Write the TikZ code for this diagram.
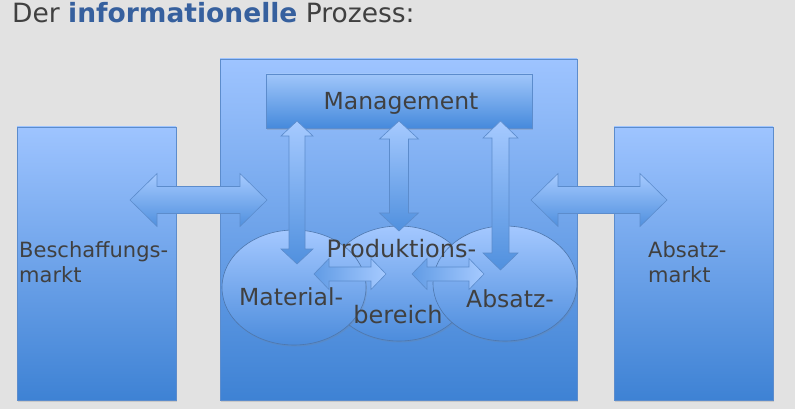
\documentclass[tikz,border=0pt]{standalone}
\usepackage{fontspec}
\setmainfont{DejaVu Sans}
\usetikzlibrary{shadows}
\definecolor{bg}{RGB}{226,226,226}
\definecolor{txt}{RGB}{64,64,64}
\definecolor{ttl}{RGB}{54,96,158}
\definecolor{boxtop}{RGB}{158,196,255}
\definecolor{boxmid}{RGB}{134,180,245}
\definecolor{boxbot}{RGB}{62,130,212}
\definecolor{edge}{RGB}{92,140,204}
\definecolor{mgtop}{RGB}{160,198,250}
\definecolor{mgbot}{RGB}{70,138,220}
\definecolor{eltop}{RGB}{164,200,255}
\definecolor{elbot}{RGB}{76,140,220}
\definecolor{artop}{RGB}{166,202,255}
\definecolor{arbot}{RGB}{80,144,222}
\tikzset{
  bigbox/.style={draw=edge, line width=0.6pt, top color=boxtop, middle color=boxmid, bottom color=boxbot,
    drop shadow={shadow xshift=1.2pt, shadow yshift=-1.8pt, opacity=0.25}},
  mgbox/.style={draw=edge, line width=0.6pt, top color=mgtop, bottom color=mgbot,
    drop shadow={shadow xshift=1.2pt, shadow yshift=-1.8pt, opacity=0.25}},
  ell/.style={draw=edge!85!black, line width=0.6pt, top color=eltop, bottom color=elbot,
    drop shadow={shadow xshift=1pt, shadow yshift=-1.5pt, opacity=0.2}},
  blockarrow/.style={draw=edge, line width=0.6pt, top color=artop, bottom color=arbot},
  blockarrowh/.style={draw=edge, line width=0.6pt, left color=arbot!80!artop, right color=artop},
  lbl/.style={text=txt, inner sep=0pt},
}
% horizontal double block arrow: x1,x2,y,shaft half,head half,head length
\newcommand{\hdarrow}[7]{%
  \path[#1] (#2,#4) -- (#2+#7,#4-#6) -- (#2+#7,#4-#5) -- (#3-#7,#4-#5) -- (#3-#7,#4-#6)
    -- (#3,#4) -- (#3-#7,#4+#6) -- (#3-#7,#4+#5) -- (#2+#7,#4+#5) -- (#2+#7,#4+#6) -- cycle;}
% vertical double block arrow: x,y1,y2,shaft half,head half,head length
\newcommand{\vdarrow}[7]{%
  \path[#1] (#2,#3) -- (#2+#6,#3+#7) -- (#2+#5,#3+#7) -- (#2+#5,#4-#7) -- (#2+#6,#4-#7)
    -- (#2,#4) -- (#2-#6,#4-#7) -- (#2-#5,#4-#7) -- (#2-#5,#3+#7) -- (#2-#6,#3+#7) -- cycle;}
\begin{document}
\begin{tikzpicture}[x=1pt,y=-1pt]
\useasboundingbox (0,0) rectangle (795,409);
\fill[bg] (0,0) rectangle (795,409);

% title
\node[lbl, anchor=base west, font=\fontsize{26.5}{30}\selectfont] (title) at (12,23)
  {Der \textcolor{ttl}{\textbf{informationelle}} Prozess:};

% boxes
\path[bigbox] (17,127) rectangle (176,400);
\path[bigbox] (614,127) rectangle (773,400);
\path[bigbox] (220,59) rectangle (577,400);

% management
\path[mgbox] (266,74) rectangle (532,128);
\node[lbl, anchor=base, font=\fontsize{23.5}{28}\selectfont] (mgmt) at (401,110) {Management};

% big horizontal arrows
\hdarrow{blockarrow}{130}{267}{200}{13.5}{26.5}{27}
\hdarrow{blockarrow}{531}{667}{200}{13.5}{26.5}{27}

% ellipses
\path[ell] (399,283.5) ellipse [x radius=72, y radius=57.5];
\path[ell] (294,287.5) ellipse [x radius=72, y radius=57.5];
\path[ell] (505,283.5) ellipse [x radius=72, y radius=57.5];

% vertical arrows
\vdarrow{blockarrow}{297}{121}{264}{8}{16}{15}
\vdarrow{blockarrow}{399}{121}{231}{9.5}{19.5}{18}
\vdarrow{blockarrow}{500.5}{121}{270}{8.5}{17.5}{17}

% small horizontal arrows
\hdarrow{blockarrowh}{314}{386}{274}{7}{15.5}{15}
\hdarrow{blockarrowh}{412}{484}{274}{7}{15.5}{15}

% ellipse labels
\node[lbl, anchor=base, font=\fontsize{24}{28}\selectfont] (prod) at (401.5,257) {Produktions-};
\node[lbl, anchor=base, font=\fontsize{24}{28}\selectfont] (ber) at (398,323) {bereich};
\node[lbl, anchor=base west, font=\fontsize{23.5}{28}\selectfont] (mat) at (239,305) {Material-};
\node[lbl, anchor=base west, font=\fontsize{23.5}{28}\selectfont] (abs) at (466,307) {Absatz-};

% market labels
\node[lbl, anchor=base west, font=\fontsize{21}{25}\selectfont, align=left] (besch) at (19,282)
  {Beschaffungs-\\markt};
\node[lbl, anchor=base west, font=\fontsize{21}{25}\selectfont, align=left] (absm) at (648,282)
  {Absatz-\\markt};
\end{tikzpicture}
\end{document}
